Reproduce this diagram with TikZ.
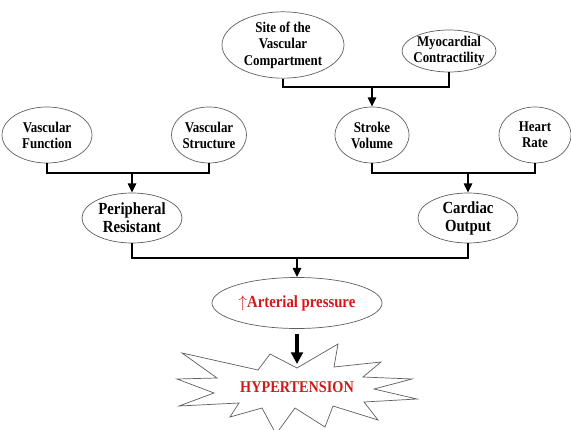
\documentclass[tikz,border=0pt]{standalone}
\usepackage{fontspec}
\setmainfont{Liberation Serif}[FakeStretch=0.87]
\usepackage{tikz}
\usetikzlibrary{shapes.geometric,arrows.meta}

\definecolor{alarmred}{RGB}{210,25,25}
\definecolor{rimgray}{RGB}{95,95,95}

\tikzset{
  bubble/.style={shape=ellipse,draw=rimgray,line width=0.6pt,inner sep=0pt,align=center,
    font=\bfseries\fontsize{12.7}{13.6}\selectfont},
  bigbubble/.style={bubble,font=\bfseries\fontsize{14.5}{15.5}\selectfont},
  link/.style={line width=2pt},
  linkarrow/.style={line width=2pt,-{Triangle[length=8pt,width=7pt]}},
  bigarrow/.style={line width=3.4pt,-{Triangle[length=10pt,width=10pt]}},
  burst/.style={draw=rimgray,line width=0.6pt,fill=white,line join=miter}
}

\begin{document}
\begin{tikzpicture}[x=0.03cm,y=-0.03cm]
\useasboundingbox (0,0) rectangle (571,430);
% top pair
\path (283,45) node (site) [bubble,minimum width=3.66cm,minimum height=1.98cm,font=\bfseries\fontsize{12.7}{14.2}\selectfont] {Site of the\\Vascular\\Compartment};
\path (449,51) node (myo) [bubble,inner xsep=-3pt,inner ysep=-2pt,minimum width=2.82cm,minimum height=1.26cm] {Myocardial\\Contractility};
% second row
\path (47,135) node (vfunc) [bubble,minimum width=2.7cm,minimum height=1.68cm] {Vascular\\Function};
\path (209,135) node (vstruct) [bubble,minimum width=2.16cm,minimum height=1.68cm] {Vascular\\Structure};
\path (372,135) node (stroke) [bubble,minimum width=2.22cm,minimum height=1.68cm] {Stroke\\Volume};
\path (535,135) node (heart) [bubble,minimum width=2.16cm,minimum height=1.68cm] {Heart\\Rate};
% third row
\path (132,218) node (periph) [bigbubble,minimum width=3cm,minimum height=1.5cm] {Peripheral\\Resistant};
\path (468,218) node (cardiac) [bigbubble,minimum width=3cm,minimum height=1.5cm] {Cardiac\\Output};
\path (297,303) node (art) [bigbubble,text=alarmred,minimum width=5.1cm,minimum height=1.53cm] {$\uparrow$Arterial pressure};

% junctions
\coordinate (j1) at (372,87);
\coordinate (j2) at (132,173);
\coordinate (j3) at (468,173);
\coordinate (j4) at (297,258);
\coordinate (notch) at (297,364);

\draw [link] (site.south) |- (j1) -| (myo.south);
\draw [linkarrow] (j1) to (stroke.north);
\draw [link] (vfunc.south) |- (j2) -| (vstruct.south);
\draw [linkarrow] (j2) to (periph.north);
\draw [link] (stroke.south) |- (j3) -| (heart.south);
\draw [linkarrow] (j3) to (cardiac.north);
\draw [link] (periph.south) |- (j4) -| (cardiac.south);
\draw [linkarrow] (j4) to (art.north);

% explosion
\begin{scope}
\clip (0,0) rectangle (571,430);
\draw [burst] (182,353) -- (258,370) -- (270,354) -- (297,368) -- (338,344) -- (334,367)
  -- (381,362) -- (363,377) -- (412,379) -- (374,389) -- (417,399) -- (364,402)
  -- (378,420) -- (333,406) -- (325,427) -- (295,408) -- (276,434) -- (262,408)
  -- (230,417) -- (239,403) -- (179,406) -- (214,393) -- (177,379) -- (217,378) -- cycle;
\end{scope}
\path (297,387) node (hyper) [text=alarmred,font=\bfseries\fontsize{14}{15}\selectfont] {HYPERTENSION};

\draw [bigarrow] ([yshift=-4pt]art.south) to (notch);
\end{tikzpicture}
\end{document}
